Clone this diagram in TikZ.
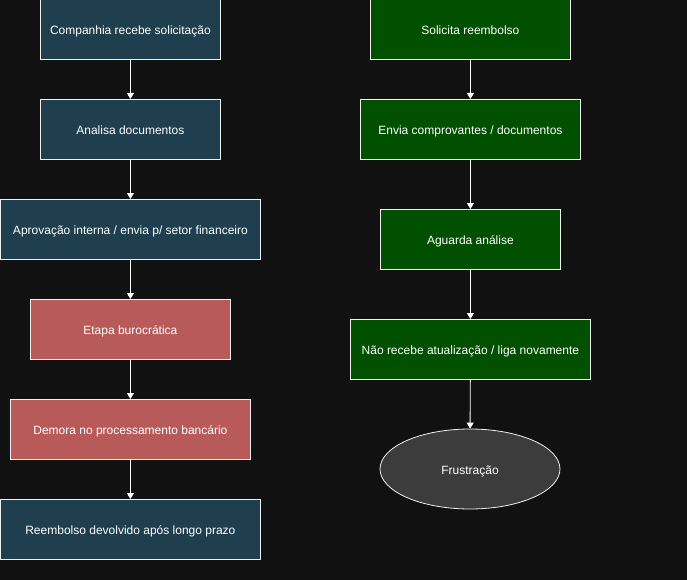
\documentclass[tikz,border=0pt]{standalone}
\usepackage{fontspec}
\setmainfont{Liberation Sans}
\usetikzlibrary{shapes.geometric,arrows.meta}
\definecolor{bg}{HTML}{111111}
\definecolor{teal}{HTML}{1F3F4F}
\definecolor{redbox}{HTML}{B85A5A}
\definecolor{greenbox}{HTML}{005000}
\definecolor{greyell}{HTML}{3C3C3C}
\definecolor{edge}{HTML}{F0F0F0}
\tikzset{
  box/.style={draw=edge, line width=0.8pt, text=white, font=\fontsize{12}{14}\selectfont, inner sep=0pt, text height=11pt, text depth=0pt, anchor=north west},
  tealbox/.style={box, fill=teal},
  redb/.style={box, fill=redbox},
  greenb/.style={box, fill=greenbox},
  conn/.style={draw=white, line width=0.9pt, -{Triangle[width=7pt,length=6pt]}},
}
\begin{document}
\begin{tikzpicture}[x=1pt,y=-1pt]
\fill[bg] (0,0) rectangle (687,580);
\useasboundingbox (0,0) rectangle (687,580);
% left column
\node[tealbox, minimum width=180pt, minimum height=60pt] (l1) at (40,-1) {Companhia recebe solicitação};
\node[tealbox, minimum width=180pt, minimum height=60pt] (l2) at (40,99) {Analisa documentos};
\node[tealbox, minimum width=260pt, minimum height=60pt] (l3) at (0,199) {Aprovação interna / envia p/ setor financeiro};
\node[redb, minimum width=200pt, minimum height=60pt] (l4) at (30,299) {Etapa burocrática};
\node[redb, minimum width=240pt, minimum height=60pt] (l5) at (10,399) {Demora no processamento bancário};
\node[tealbox, minimum width=260pt, minimum height=60pt] (l6) at (0,499) {Reembolso devolvido após longo prazo};
% right column
\node[greenb, minimum width=200pt, minimum height=60pt] (r1) at (370,-1) {Solicita reembolso};
\node[greenb, minimum width=220pt, minimum height=60pt] (r2) at (360,99) {Envia comprovantes / documentos};
\node[greenb, minimum width=180pt, minimum height=60pt] (r3) at (380,209) {Aguarda análise};
\node[greenb, minimum width=240pt, minimum height=60pt] (r4) at (350,319) {Não recebe atualização / liga novamente};
\node[ellipse, draw=edge, line width=0.8pt, fill=greyell, text=white, font=\fontsize{12}{14}\selectfont, text height=11pt, text depth=0pt, minimum width=180pt, minimum height=80pt, inner sep=0pt] (r5) at (470,469) {Frustração};
% connectors
\draw[conn] (l1) -- (l2);
\draw[conn] (l2) -- (l3);
\draw[conn] (l3) -- (l4);
\draw[conn] (l4) -- (l5);
\draw[conn] (l5) -- (l6);
\draw[conn] (r1) -- (r2);
\draw[conn] (r2) -- (r3);
\draw[conn] (r3) -- (r4);
\draw[conn] (r4) -- (r5);
\end{tikzpicture}
\end{document}
